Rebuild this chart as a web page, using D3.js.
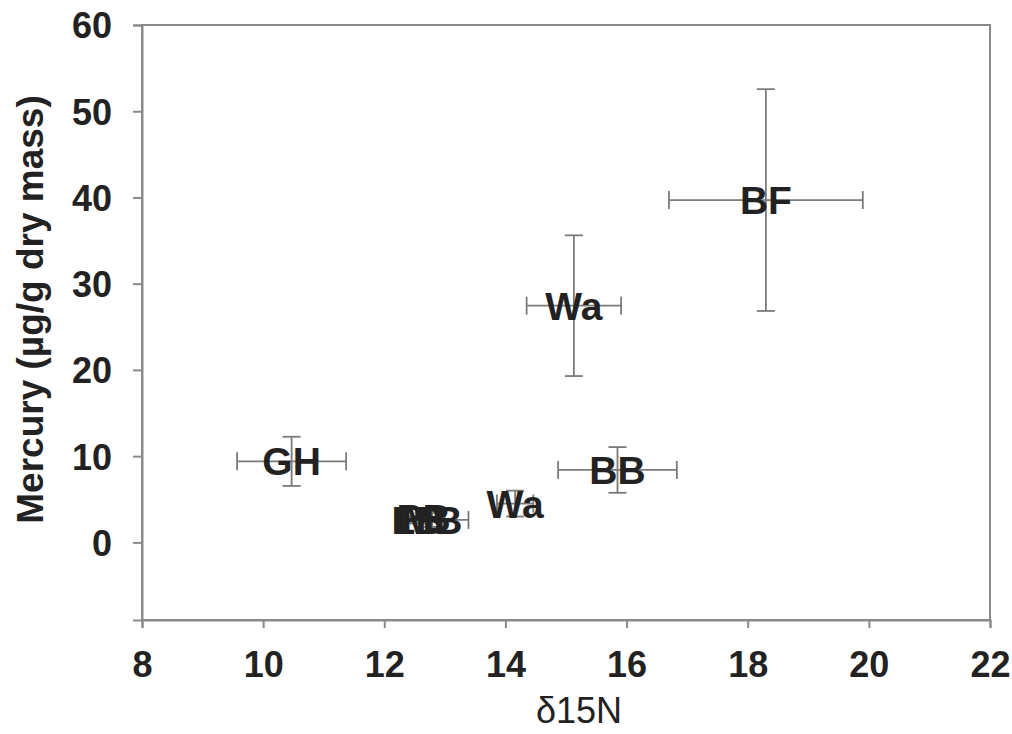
<!DOCTYPE html>
<html>
<head>
<meta charset="utf-8">
<script src="https://cdnjs.cloudflare.com/ajax/libs/d3/7.8.5/d3.min.js" type="text/javascript"></script>
<style>
body { margin: 0; background: #fff; }
text { font-family: "Liberation Sans", Arial, sans-serif; fill: #222; }
</style>
</head>
<body>
<div id="chart"></div>
<script type="text/javascript">
// group labels, d15N (x) and mercury (y) with their error half-widths
var groups = ["GH", "MB", "PB", "LB", "Wa", "BB", "Wa", "BF"];
var d15N = [10.47, 12.79, 12.65, 12.55, 14.16, 15.85, 15.13, 18.30];
var d15NErr = [0.9, 0.6, 0.35, 0.2, 0.3, 0.98, 0.78, 1.6];
var mercury = [9.4, 2.6, 2.8, 2.6, 4.5, 8.4, 27.45, 39.7];
var mercuryErr = [2.85, 0.8, 0.6, 0.4, 1.5, 2.65, 8.16, 12.86];

var xTicks = [8, 10, 12, 14, 16, 18, 20, 22];
var yTicks = [0, 10, 20, 30, 40, 50, 60];
var xTitle = "δ15N";
var yTitle = "Mercury (µg/g dry mass)";

var size = { width: 1012, height: 734 };
var margin = { top: 25, right: 22, bottom: 114, left: 142 };
var width = size.width - margin.left - margin.right;
var height = size.height - margin.top - margin.bottom;
var axisColor = "#8a8a8a";
var barColor = "#7a7a7a";
var cap = 9;

var data = groups.map(function(g, i) {
	return { "label": g, "x": d15N[i], "xe": d15NErr[i], "y": mercury[i], "ye": mercuryErr[i] };
});

var svg = d3.select("#chart")
	.append("svg")
		.attr("width", size.width)
		.attr("height", size.height)
	.append("g")
		.attr("transform", "translate(" + margin.left + "," + margin.top + ")");

var x = d3.scaleLinear().domain([8, 22]).range([0, width]);
var y = d3.scaleLinear().domain([-9, 60]).range([height, 0]);

// frame
svg.append("rect")
	.attr("width", width)
	.attr("height", height)
	.attr("fill", "none")
	.attr("stroke", axisColor)
	.attr("stroke-width", 2);

var xAxis = svg.append("g")
	.attr("transform", "translate(0," + height + ")")
	.call(d3.axisBottom(x).tickValues(xTicks).tickSize(8).tickPadding(23).tickFormat(d3.format("d")));
var yAxis = svg.append("g")
	.call(d3.axisLeft(y).tickValues(yTicks).tickSize(9).tickPadding(21).tickFormat(d3.format("d")));

[xAxis, yAxis].forEach(function(a) {
	a.select(".domain").attr("stroke", axisColor).attr("stroke-width", 2);
	a.selectAll(".tick line").attr("stroke", axisColor).attr("stroke-width", 2);
	a.selectAll(".tick text")
		.attr("fill", "#222")
		.style("font-family", "'Liberation Sans', Arial, sans-serif")
		.style("font-size", "36px")
		.style("font-weight", "bold");
});
yAxis.selectAll(".tick text").attr("dy", "0.36em");
xAxis.selectAll(".tick text").attr("dy", "0.71em");

// axis titles
svg.append("text")
	.attr("x", width / 2 + 13)
	.attr("y", height + 103)
	.style("text-anchor", "middle")
	.style("font-size", "36px")
	.text(xTitle);
svg.append("text")
	.attr("transform", "translate(-99," + (height / 2 - 13) + ") rotate(-90)")
	.style("text-anchor", "middle")
	.style("font-size", "37px")
	.style("font-weight", "bold")
	.text(yTitle);

// error bars
var bars = svg.selectAll(".err")
	.data(data)
	.enter()
	.append("g")
	.attr("class", "err")
	.attr("stroke", barColor)
	.attr("stroke-width", 1.8)
	.attr("fill", "none");
bars.append("line")
	.attr("x1", function(d) { return x(d.x - d.xe); })
	.attr("x2", function(d) { return x(d.x + d.xe); })
	.attr("y1", function(d) { return y(d.y); })
	.attr("y2", function(d) { return y(d.y); });
bars.append("line")
	.attr("x1", function(d) { return x(d.x); })
	.attr("x2", function(d) { return x(d.x); })
	.attr("y1", function(d) { return y(d.y - d.ye); })
	.attr("y2", function(d) { return y(d.y + d.ye); });
[-1, 1].forEach(function(s) {
	bars.append("line")
		.attr("x1", function(d) { return x(d.x + s * d.xe); })
		.attr("x2", function(d) { return x(d.x + s * d.xe); })
		.attr("y1", function(d) { return y(d.y) - cap; })
		.attr("y2", function(d) { return y(d.y) + cap; });
	bars.append("line")
		.attr("x1", function(d) { return x(d.x) - cap; })
		.attr("x2", function(d) { return x(d.x) + cap; })
		.attr("y1", function(d) { return y(d.y + s * d.ye); })
		.attr("y2", function(d) { return y(d.y + s * d.ye); });
});

// point labels
svg.selectAll(".label")
	.data(data)
	.enter()
	.append("text")
	.attr("class", "label")
	.attr("x", function(d) { return x(d.x); })
	.attr("y", function(d) { return y(d.y); })
	.attr("dy", "0.36em")
	.style("text-anchor", "middle")
	.style("font-size", "39px")
	.style("font-weight", "bold")
	.text(function(d) { return d.label; });
</script>
</body>
</html>
